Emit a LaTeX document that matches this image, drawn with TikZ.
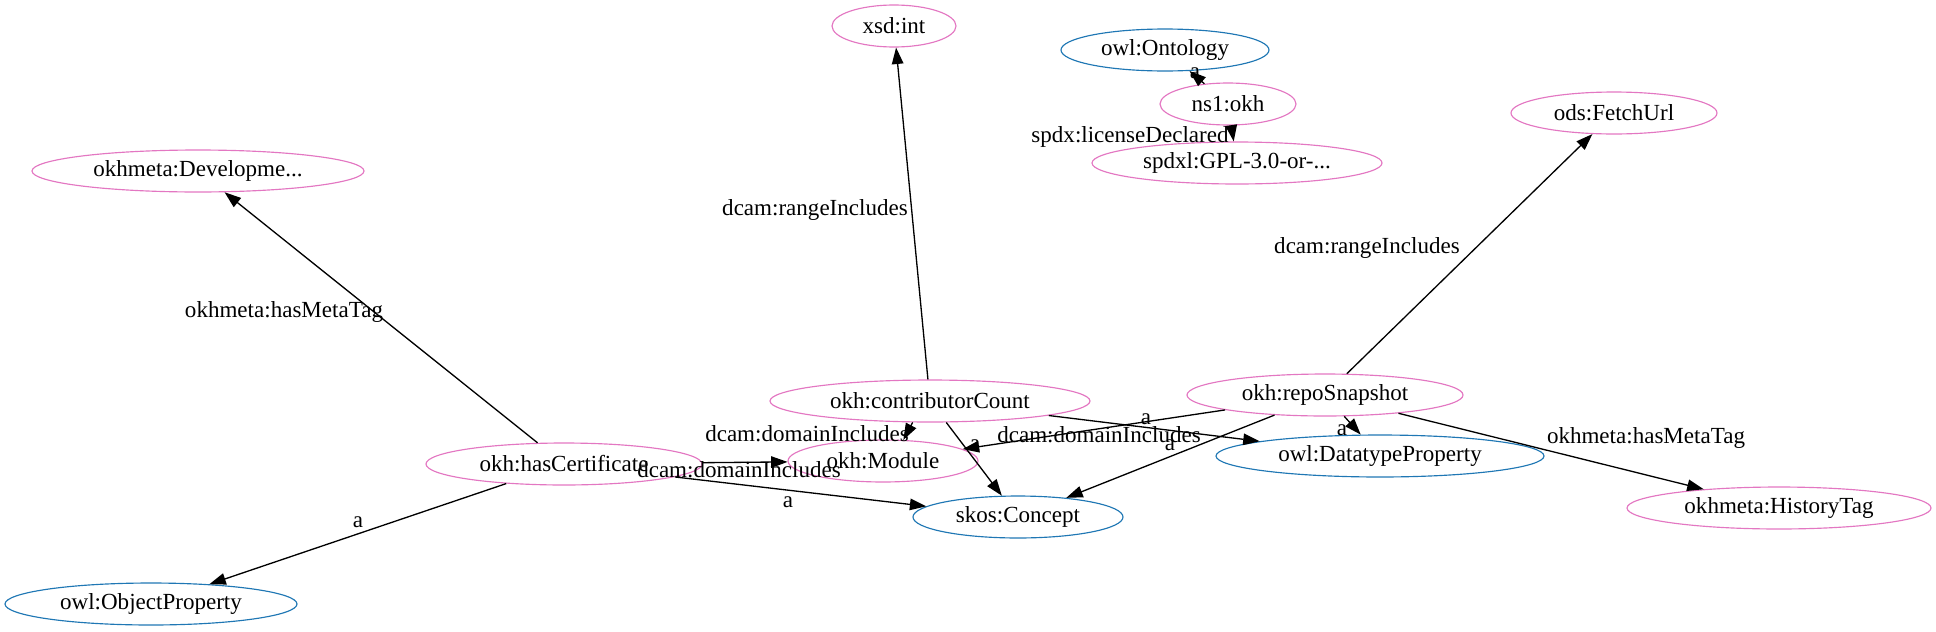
\documentclass[tikz,border=0pt]{standalone}
\usepackage{fontspec}
\setmainfont{Liberation Serif}
\usetikzlibrary{shapes.geometric,arrows.meta}
\definecolor{gvpink}{HTML}{E377C2}
\definecolor{gvblue}{HTML}{1F77B4}
\begin{document}
\begin{tikzpicture}[x=0.6075pt,y=-0.6075pt, font=\fontsize{14}{16}\selectfont,
  ent/.style={ellipse, draw=gvpink, line width=0.7pt, inner sep=0pt, minimum height=25.5pt},
  cls/.style={ellipse, draw=gvblue, line width=0.7pt, inner sep=0pt, minimum height=25.5pt},
  hw/.style={minimum width=#1*1.215pt},
  link/.style={draw, line width=0.8pt, -{Triangle[length=10pt,width=7pt]}},
  lbl/.style={anchor=base, inner sep=0pt}]
\useasboundingbox (0,0) rectangle (1936,631);

% nodes
\node[ent, hw=166] (dev) at (198,171) {okhmeta:Developme...};
\node[cls, hw=146] (obj) at (151,604) {owl:ObjectProperty};
\node[ent, hw=138] (cert) at (564,464) {okh:hasCertificate};
\node[ent, hw=95] (mod) at (883,461) {okh:Module};
\node[cls, hw=105] (skos) at (1018,517) {skos:Concept};
\node[ent, hw=160] (contrib) at (930,401) {okh:contributorCount};
\node[ent, hw=62] (xsd) at (894,26) {xsd:int};
\node[cls, hw=104] (onto) at (1165,50) {owl:Ontology};
\node[ent, hw=68] (ns1) at (1228,104) {ns1:okh};
\node[ent, hw=145] (gpl) at (1237,163) {spdxl:GPL-3.0-or-...};
\node[ent, hw=103] (fetch) at (1614,113) {ods:FetchUrl};
\node[ent, hw=138] (repo) at (1325,395) {okh:repoSnapshot};
\node[cls, hw=164] (dtp) at (1380,456) {owl:DatatypeProperty};
\node[ent, hw=152] (hist) at (1779,508) {okhmeta:HistoryTag};

% edges
\path[link] (cert) -- (dev);
\path[link] (cert) -- (obj);
\path[link] (cert) -- (mod);
\path[link] (cert) -- (skos);
\path[link] (contrib) -- (xsd);
\path[link] (contrib.231) -- (mod.46);
\path[link] (contrib) -- (skos);
\path[link] (contrib) -- (dtp);
\path[link] (repo) -- (mod);
\path[link] (repo) -- (skos);
\path[link] (repo) -- (dtp);
\path[link] (repo) -- (hist);
\path[link] (repo) -- (fetch);
\path[link] (ns1) -- (onto);
\path[link] (ns1) -- (gpl);

% edge labels
\node[lbl] (l1) at (284,317) {okhmeta:hasMetaTag};
\node[lbl] (l2) at (358,527) {a};
\node[lbl] (l3) at (807,441) {dcam:domainIncludes};
\node[lbl] (l4) at (739,477) {dcam:domainIncludes};
\node[lbl] (l5) at (788,507) {a};
\node[lbl] (l6) at (815,215) {dcam:rangeIncludes};
\node[lbl] (l7) at (975,450) {a};
\node[lbl] (l8) at (1146,424) {a};
\node[lbl] (l9) at (1099,442) {dcam:domainIncludes};
\node[lbl] (l10) at (1170,450) {a};
\node[lbl] (l11) at (1342,435) {a};
\node[lbl] (l12) at (1646,443) {okhmeta:hasMetaTag};
\node[lbl] (l13) at (1367,253) {dcam:rangeIncludes};
\node[lbl] (l14) at (1130,142) {spdx:licenseDeclared};
\node[lbl] (l15) at (1195,78) {a};
\end{tikzpicture}
\end{document}
